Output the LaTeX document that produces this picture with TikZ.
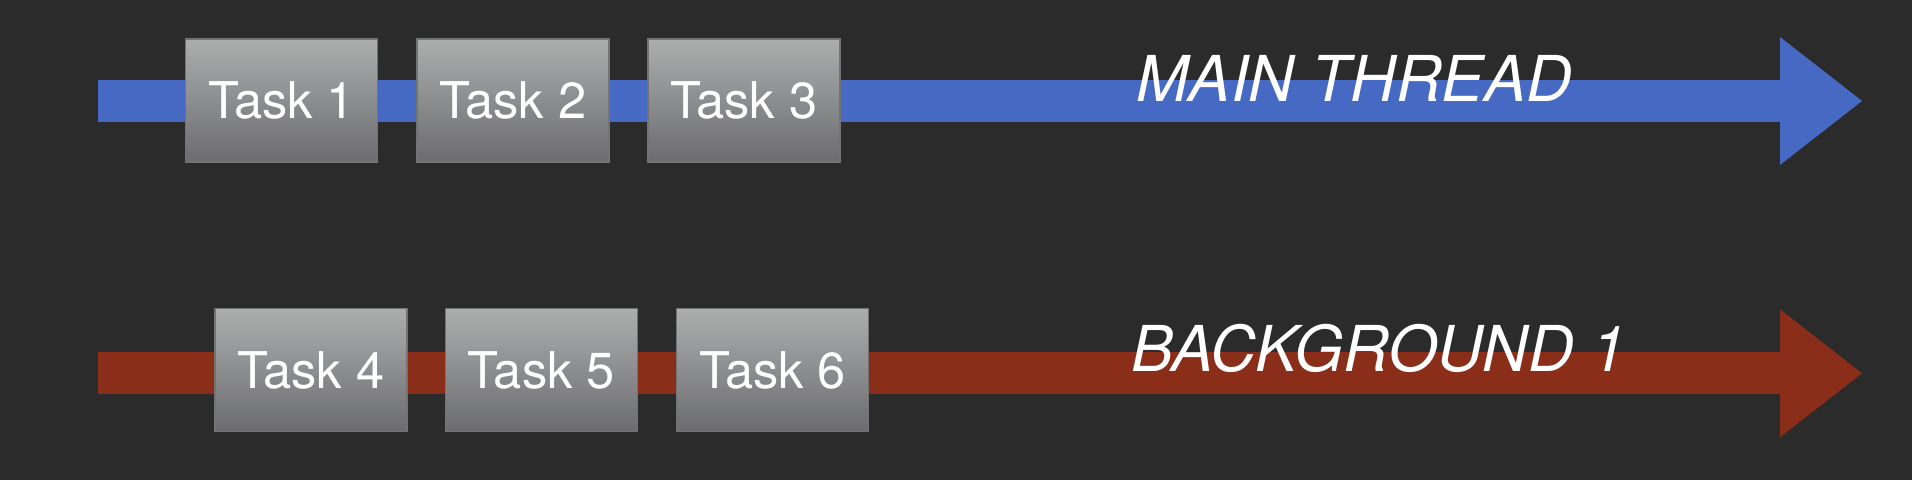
\documentclass[tikz,border=0pt]{standalone}
\usepackage{fontspec}
\setmainfont{TeX Gyre Heros}
\usetikzlibrary{arrows.meta,positioning}
\definecolor{slide}{RGB}{43,43,43}
\definecolor{mainblue}{RGB}{70,105,195}
\definecolor{bgred}{RGB}{138,45,25}
\definecolor{boxtop}{RGB}{172,174,174}
\definecolor{boxbot}{RGB}{108,108,112}
\tikzset{thread/.style={line width=0.42cm,-{Triangle[length=0.82cm,width=1.28cm,line width=0pt]}}}

\begin{document}
\begin{tikzpicture}[x=1cm, y=1cm]

\tikzset{taskbox/.style={minimum width=1.92cm,minimum height=1.23cm,inner sep=0pt,top color=boxtop,bottom color=boxbot,draw=black!55,line width=0.4pt,text=white,font=\fontsize{14.4}{16}\selectfont},
threadlabel/.style={text=white,anchor=base,inner sep=0pt,font=\fontsize{18}{20}\selectfont\itshape}}

% Slide
\fill[slide] (0,0) rectangle (19.12,4.8);
\useasboundingbox (0,0) rectangle (19.12,4.8);

% Nodes
\coordinate (mainStart) at (0.976,3.79);
\coordinate (mainEnd) at (18.62,3.79);
\coordinate (bgStart) at (0.976,1.067);
\coordinate (bgEnd) at (18.62,1.067);

% Threads
\draw[thread,mainblue] (mainStart) -- (mainEnd);
\draw[thread,bgred] (bgStart) -- (bgEnd);
\node[threadlabel] (mainLabel) at (13.54,3.78) {MAIN THREAD};
\node[threadlabel] (bgLabel) at (13.79,1.08) {BACKGROUND 1};

% Tasks
\foreach \i/\x in {1/2.815, 2/5.13, 3/7.44} \node[taskbox] (task\i) at (\x,3.795) {Task \i};
\foreach \i/\x in {4/3.11, 5/5.414, 6/7.725} \node[taskbox] (task\i) at (\x,1.098) {Task \i};

\end{tikzpicture}
\end{document}
